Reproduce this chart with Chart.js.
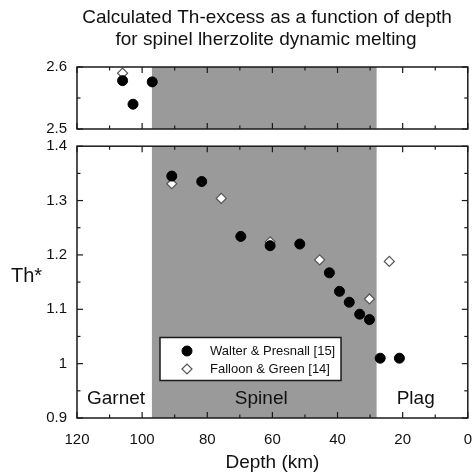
<!DOCTYPE html>
<html><head><meta charset="utf-8">
<script src="https://cdn.jsdelivr.net/npm/chart.js@4"></script>
<style>
html,body{margin:0;padding:0;background:#fff;}
#wrap{position:relative;width:474px;height:474px;background:#fff;}
#c1{position:absolute;left:0;top:0;}
#c2{position:absolute;left:0;top:140px;}
</style></head><body>
<div id="wrap">
<canvas id="c1" width="474" height="140"></canvas>
<canvas id="c2" width="474" height="334"></canvas>
</div>
<script>
// ---- data ----
const titleLines = ['Calculated Th-excess as a function of depth', 'for spinel lherzolite dynamic melting'];
const seriesNames = ['Walter & Presnall [15]', 'Falloon & Green [14]'];
const walterDepth = [106.0, 102.8, 96.9, 90.9, 81.7, 69.7, 60.7, 51.6, 42.5, 39.4, 36.4, 33.2, 30.2, 26.9, 21.0];
const walterTh    = [2.578, 2.540, 2.576, 1.345, 1.335, 1.234, 1.217, 1.220, 1.167, 1.133, 1.113, 1.091, 1.081, 1.010, 1.010];
const falloonDepth = [106.0, 90.9, 75.7, 60.7, 45.5, 30.2, 24.1];
const falloonTh    = [2.590, 1.331, 1.304, 1.224, 1.191, 1.119, 1.188];
const xTicks = [120, 100, 80, 60, 40, 20, 0];
const xMinorTicks = [110, 90, 70, 50, 30, 10];
const yTicksBottom = [0.9, 1.0, 1.1, 1.2, 1.3, 1.4];
const yMinorBottom = [0.95, 1.05, 1.15, 1.25, 1.35];
const yTicksTop = [2.5, 2.6];
const yMinorTop = [2.55];
const zoneNames = ['Garnet', 'Spinel', 'Plag'];
const spinelRange = [97, 28];
const xTitle = 'Depth (km)';
const yTitle = 'Th*';

const FONT = "'Liberation Sans', Arial, Helvetica, sans-serif";
Chart.defaults.font.family = FONT;
Chart.defaults.color = '#111';

function pts(xs, ys, keep) {
  const out = [];
  for (let i = 0; i < xs.length; i++) if (keep(ys[i])) out.push({x: xs[i], y: ys[i]});
  return out;
}
function datasets(keep) {
  return [
    {label: seriesNames[0], data: pts(walterDepth, walterTh, keep), pointStyle: 'circle', pointRadius: 5,
     backgroundColor: '#000', borderColor: '#000', borderWidth: 1, clip: false},
    {label: seriesNames[1], data: pts(falloonDepth, falloonTh, keep), pointStyle: 'rectRot', pointRadius: 5,
     backgroundColor: '#fff', borderColor: '#555', borderWidth: 1.2, clip: false}
  ];
}
const fmt = v => String(Number(Number(v).toFixed(2)));

function shadePlugin() {
  return {
    id: 'shade',
    beforeDatasetsDraw(chart) {
      const {ctx, chartArea: a, scales: {x}} = chart;
      const x1 = x.getPixelForValue(spinelRange[0]), x2 = x.getPixelForValue(spinelRange[1]);
      ctx.save();
      ctx.fillStyle = '#9a9a9a';
      ctx.fillRect(x1, a.top, x2 - x1, a.bottom - a.top);
      ctx.restore();
    }
  };
}
function framePlugin(yMaj, yMin) {
  return {
    id: 'frame',
    afterDatasetsDraw(chart) {
      const {ctx, chartArea: a, scales: {x, y}} = chart;
      ctx.save();
      ctx.strokeStyle = '#1a1a1a';
      ctx.lineWidth = 1.5;
      ctx.strokeRect(a.left, a.top, a.right - a.left, a.bottom - a.top);
      ctx.lineWidth = 1.2;
      const seg = (x1, y1, x2, y2) => { ctx.beginPath(); ctx.moveTo(x1, y1); ctx.lineTo(x2, y2); ctx.stroke(); };
      xTicks.forEach(v => { const p = x.getPixelForValue(v); seg(p, a.bottom, p, a.bottom - 6); seg(p, a.top, p, a.top + 6); });
      xMinorTicks.forEach(v => { const p = x.getPixelForValue(v); seg(p, a.bottom, p, a.bottom - 3.5); seg(p, a.top, p, a.top + 3.5); });
      yMaj.forEach(v => { const p = y.getPixelForValue(v); seg(a.left, p, a.left + 6, p); seg(a.right, p, a.right - 6, p); });
      yMin.forEach(v => { const p = y.getPixelForValue(v); seg(a.left, p, a.left + 3.5, p); seg(a.right, p, a.right - 3.5, p); });
      ctx.restore();
    }
  };
}

// ---- top panel ----
new Chart(document.getElementById('c1'), {
  type: 'scatter',
  data: {datasets: datasets(v => v >= 2.5)},
  options: {
    responsive: false, animation: false, events: [],
    layout: {padding: {left: 0, right: 3, top: 67, bottom: 11}},
    plugins: {legend: {display: false}, tooltip: {enabled: false}},
    scales: {
      x: {type: 'linear', min: 0, max: 120, reverse: true, display: false},
      y: {type: 'linear', min: 2.5, max: 2.6,
          ticks: {stepSize: 0.1, padding: 10, font: {size: 15}, callback: fmt},
          grid: {display: false, drawTicks: false}, border: {display: false},
          afterFit(s) { s.width = 77; s.paddingTop = 0; s.paddingBottom = 0; }}
    }
  },
  plugins: [shadePlugin(), framePlugin(yTicksTop, yMinorTop), {
    id: 'titleText',
    afterDraw(chart) {
      const ctx = chart.ctx;
      ctx.save();
      ctx.fillStyle = '#111';
      ctx.font = '19px ' + FONT;
      ctx.textAlign = 'center';
      ctx.textBaseline = 'alphabetic';
      ctx.fillText(titleLines[0], 267, 23);
      ctx.fillText(titleLines[1], 266, 44.5);
      ctx.restore();
    }
  }]
});

// ---- bottom panel ----
new Chart(document.getElementById('c2'), {
  type: 'scatter',
  data: {datasets: datasets(v => v <= 1.4)},
  options: {
    responsive: false, animation: false, events: [],
    layout: {padding: {left: 0, right: 3, top: 6, bottom: 0}},
    plugins: {legend: {display: false}, tooltip: {enabled: false}},
    scales: {
      x: {type: 'linear', min: 0, max: 120, reverse: true,
          ticks: {stepSize: 20, padding: 13, font: {size: 15}, maxRotation: 0, autoSkip: false},
          grid: {display: false, drawTicks: false}, border: {display: false},
          title: {display: true, text: xTitle, font: {size: 19}, color: '#111', padding: 0},
          afterFit(s) { s.height = 56; s.paddingLeft = 0; s.paddingRight = 0; }},
      y: {type: 'linear', min: 0.9, max: 1.4,
          ticks: {stepSize: 0.1, padding: 10, font: {size: 15}, callback: fmt},
          grid: {display: false, drawTicks: false}, border: {display: false},
          afterFit(s) { s.width = 77; s.paddingTop = 0; s.paddingBottom = 0; }}
    }
  },
  plugins: [shadePlugin(), {
    id: 'zones',
    afterDatasetsDraw(chart) {
      const {ctx, chartArea: a, scales: {x}} = chart;
      ctx.save();
      ctx.fillStyle = '#111';
      ctx.font = '19px ' + FONT;
      ctx.textBaseline = 'alphabetic';
      const base = a.bottom - 14;
      ctx.textAlign = 'left';
      ctx.fillText(zoneNames[0], a.left + 10, base);
      ctx.textAlign = 'center';
      ctx.fillText(zoneNames[1], (x.getPixelForValue(spinelRange[0]) + x.getPixelForValue(spinelRange[1])) / 2 - 3, base);
      ctx.fillText(zoneNames[2], x.getPixelForValue(16), base);
      // y title
      ctx.font = '20px ' + FONT;
      ctx.textAlign = 'left';
      ctx.fillText(yTitle, 11, 141.5);
      ctx.restore();
    }
  }, framePlugin(yTicksBottom, yMinorBottom), {
    id: 'legendBox',
    afterDraw(chart) {
      const ctx = chart.ctx;
      const bx = 160, by = 197.5, bw = 181, bh = 43;
      ctx.save();
      ctx.fillStyle = '#fff';
      ctx.fillRect(bx, by, bw, bh);
      ctx.strokeStyle = '#1a1a1a';
      ctx.lineWidth = 1.5;
      ctx.strokeRect(bx, by, bw, bh);
      const rows = [211, 229];
      chart.data.datasets.forEach((ds, i) => {
        const cx = 187, cy = rows[i];
        ctx.beginPath();
        if (ds.pointStyle === 'circle') {
          ctx.arc(cx, cy, ds.pointRadius, 0, Math.PI * 2);
        } else {
          const r = ds.pointRadius;
          ctx.moveTo(cx - r, cy); ctx.lineTo(cx, cy - r); ctx.lineTo(cx + r, cy); ctx.lineTo(cx, cy + r); ctx.closePath();
        }
        ctx.fillStyle = ds.backgroundColor; ctx.fill();
        ctx.strokeStyle = ds.borderColor; ctx.lineWidth = ds.borderWidth; ctx.stroke();
        ctx.fillStyle = '#111';
        ctx.font = '13px ' + FONT;
        ctx.textAlign = 'left';
        ctx.textBaseline = 'middle';
        ctx.fillText(ds.label, 210, cy + 0.5);
      });
      ctx.restore();
    }
  }]
});
</script>
</body></html>
